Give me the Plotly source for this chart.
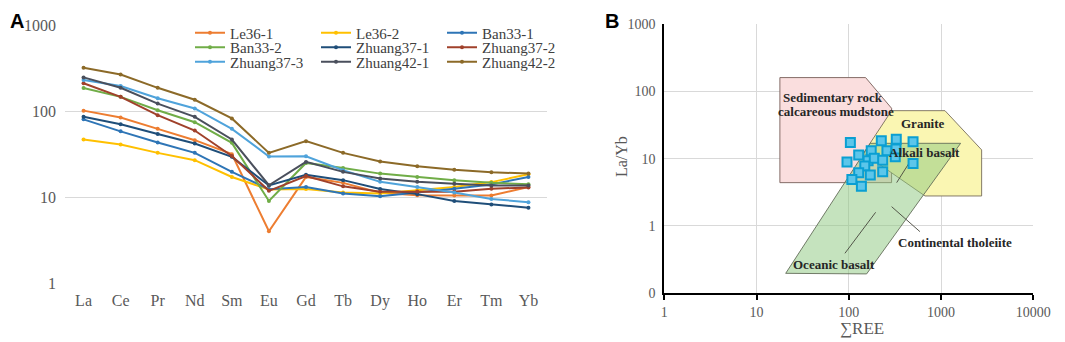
import plotly.graph_objects as go

# ---------------- Panel A data (chondrite-normalised REE) ----------------
elements = ["La", "Ce", "Pr", "Nd", "Sm", "Eu", "Gd", "Tb", "Dy", "Ho", "Er", "Tm", "Yb"]

le36_1 = [101, 84, 62, 45.8, 31.5, 4.0, 17.1, 14.6, 11.2, 10.5, 10.4, 10.4, 13.1]
le36_2 = [46.6, 40.8, 32.6, 26.8, 17.1, 12.2, 12.4, 11.3, 11.0, 12.0, 13.1, 14.9, 18.4]
ban33_1 = [80, 58, 43, 32.6, 19.6, 12.3, 13.1, 11.0, 10.2, 11.2, 12.5, 14.0, 17.1]
ban33_2 = [185, 146, 102, 74, 42.6, 9.0, 24.9, 21.8, 18.7, 17.1, 15.7, 14.6, 14.1]
zhuang37_1 = [85.6, 70, 54, 41.9, 29.3, 13.6, 18.1, 15.7, 12.4, 10.8, 9.0, 8.2, 7.5]
zhuang37_2 = [210, 146, 89.5, 59.3, 30, 11.8, 17.5, 13.3, 11.5, 11.6, 11.5, 12.5, 12.9]
zhuang37_3 = [229, 195, 141, 107, 62, 29.6, 29.8, 20.5, 15.0, 13.1, 11.3, 9.5, 8.7]
zhuang42_1 = [246, 186, 122, 85.6, 46.6, 13.7, 25.6, 19.6, 16.4, 15.0, 14.3, 13.6, 13.6]
zhuang42_2 = [318, 266, 186, 135, 82, 32.6, 44.6, 32.6, 25.9, 22.8, 20.7, 19.4, 18.7]

series_names = ["Le36-1", "Le36-2", "Ban33-1", "Ban33-2", "Zhuang37-1", "Zhuang37-2",
                "Zhuang37-3", "Zhuang42-1", "Zhuang42-2"]
series_values = [le36_1, le36_2, ban33_1, ban33_2, zhuang37_1, zhuang37_2,
                 zhuang37_3, zhuang42_1, zhuang42_2]
series_colors = ["#ED7D31", "#FFC000", "#2E75B6", "#70AD47", "#1F4E79", "#A0412B",
                 "#4FA3DB", "#4A4F5C", "#8C6A28"]

y_a_ticks = [1, 10, 100, 1000]

# ---------------- Panel B data ----------------
sum_ree = [104, 95.6, 128, 175, 225, 327, 259, 319, 497, 497, 162, 189, 233,
           149, 128, 171, 233, 108, 137, 325]
la_yb = [17.3, 8.9, 11.3, 13.1, 18.5, 19.4, 13.1, 10.7, 17.9, 8.5, 9.3, 10.1, 9.5,
         7.8, 6.2, 5.7, 6.4, 4.9, 3.9, 13.9]

# Discrimination fields (vertices in data units)
sed_x = [17.9, 152, 291, 291, 17.9, 17.9]
sed_y = [160, 160, 56, 4.4, 4.4, 160]
granite_x = [291, 1103, 2754, 2754, 670, 144, 291]
granite_y = [51.6, 51.6, 13.5, 2.79, 2.79, 12.0, 51.6]
basalt_x = [20.7, 156, 1630, 171, 20.7]
basalt_y = [0.198, 0.194, 16.9, 16.9, 0.198]

# leader lines
ocean_lead_x = [10 ** 1.958, 10 ** 2.291]
ocean_lead_y = [10 ** -0.406, 10 ** 0.203]
cont_lead_x = [10 ** 2.464, 10 ** 2.771]
cont_lead_y = [10 ** 0.287, 10 ** -0.084]
alk_lead_x = [10 ** 2.519, 10 ** 2.663]
alk_lead_y = [10 ** 0.644, 10 ** 0.955]

b_x_ticks = [1, 10, 100, 1000, 10000]
b_y_ticks = [0.1, 1, 10, 100, 1000]
b_y_text = ["0", "1", "10", "100", "1000"]

# field labels: (text, log10 x, log10 y)
field_labels = [
    ("Sedimentary rock", 1.825, 1.91),
    ("calcareous mudstone", 1.861, 1.70),
    ("Granite", 2.808, 1.525),
    ("Alkali basalt", 2.818, 1.089),
    ("Continental tholeiite", 3.151, -0.248),
    ("Oceanic basalt", 1.839, -0.569),
]

# page body has an 8px margin, so the figure is drawn 8px smaller and offset
OFF = 8
W, H = 1065 - OFF, 342 - OFF


def px(x):
    return (x - OFF) / W


def py(y):
    return 1 - (y - OFF) / H


SERIF = "Liberation Serif"
GRAY = "#595959"

fig = go.Figure()

legend_ids = ["legend", "legend", "legend", "legend2", "legend2", "legend2",
              "legend3", "legend3", "legend3"]
for name, vals, col, lg in zip(series_names, series_values, series_colors, legend_ids):
    fig.add_trace(go.Scatter(
        x=elements, y=vals, name=name, mode="lines+markers",
        line=dict(color=col, width=2), marker=dict(color=col, size=4),
        xaxis="x", yaxis="y", legend=lg,
    ))

# Panel B polygons
fig.add_trace(go.Scatter(x=sed_x, y=sed_y, mode="lines", fill="toself",
                         fillcolor="rgba(250,222,222,1)",
                         line=dict(color="rgba(120,95,90,0.9)", width=1),
                         xaxis="x2", yaxis="y2", showlegend=False, hoverinfo="skip"))
fig.add_trace(go.Scatter(x=granite_x, y=granite_y, mode="lines", fill="toself",
                         fillcolor="rgba(250,246,178,1)",
                         line=dict(color="rgba(120,110,90,0.9)", width=1),
                         xaxis="x2", yaxis="y2", showlegend=False, hoverinfo="skip"))
fig.add_trace(go.Scatter(x=basalt_x, y=basalt_y, mode="lines", fill="toself",
                         fillcolor="rgba(140,200,125,0.5)",
                         line=dict(color="rgba(100,110,90,0.9)", width=1),
                         xaxis="x2", yaxis="y2", showlegend=False, hoverinfo="skip"))
for lx, ly in [(ocean_lead_x, ocean_lead_y), (cont_lead_x, cont_lead_y), (alk_lead_x, alk_lead_y)]:
    fig.add_trace(go.Scatter(x=lx, y=ly, mode="lines",
                             line=dict(color="rgba(70,70,60,0.9)", width=1),
                             xaxis="x2", yaxis="y2", showlegend=False, hoverinfo="skip"))

fig.add_trace(go.Scatter(x=sum_ree, y=la_yb, mode="markers",
                         marker=dict(symbol="square", size=9, color="#5CC6EA",
                                     line=dict(color="#0A9FD2", width=2)),
                         xaxis="x2", yaxis="y2", showlegend=False))

annotations = []
for txt, lx, ly in field_labels:
    annotations.append(dict(text=txt, x=lx, y=ly, xref="x2", yref="y2", showarrow=False,
                            xanchor="center", yanchor="middle",
                            font=dict(family=SERIF, size=13, color="#262626", weight="bold")))

annotations += [
    dict(text="<b>A</b>", x=0, y=1, xref="paper", yref="paper", xanchor="left",
         yanchor="top", showarrow=False, font=dict(family="Liberation Sans", size=20, color="black")),
    dict(text="<b>B</b>", x=px(603), y=1, xref="paper", yref="paper", xanchor="left",
         yanchor="top", showarrow=False, font=dict(family="Liberation Sans", size=20, color="black")),
    dict(text="La/Yb", x=px(621), y=py(157), xref="paper", yref="paper", textangle=-90,
         xanchor="center", yanchor="middle",
         showarrow=False, font=dict(family=SERIF, size=16, color=GRAY)),
    dict(text="∑REE", x=px(862), y=py(328), xref="paper", yref="paper",
         xanchor="center", yanchor="middle",
         showarrow=False, font=dict(family=SERIF, size=17, color=GRAY)),
]

leg_common = dict(orientation="h", xanchor="left", yanchor="middle", entrywidth=81,
                  entrywidthmode="pixels", bgcolor="rgba(0,0,0,0)", borderwidth=0,
                  font=dict(family=SERIF, size=15, color="#404040"), itemwidth=30,
                  tracegroupgap=0, xref="container", yref="container")

fig.update_layout(
    width=W, height=H,
    margin=dict(l=0, r=0, t=0, b=0, autoexpand=False),
    paper_bgcolor="white", plot_bgcolor="white",
    showlegend=True,
    legend=dict(x=px(190), y=py(33), **leg_common),
    legend2=dict(x=px(190), y=py(47.5), **leg_common),
    legend3=dict(x=px(190), y=py(62), **leg_common),
    xaxis=dict(domain=[px(65), px(547)], anchor="y", type="category", automargin=False,
               range=[-0.5, 12.5], showgrid=False, showline=False, ticks="",
               tickfont=dict(family=SERIF, size=16, color=GRAY), ticklabelstandoff=6),
    yaxis=dict(domain=[py(283), py(25)], anchor="x", type="log", range=[0, 3],
               automargin=False,
               tickvals=y_a_ticks, ticktext=[str(v) for v in y_a_ticks],
               showgrid=True, gridcolor="#D9D9D9", gridwidth=1, showline=False,
               zeroline=False, ticks="",
               tickfont=dict(family=SERIF, size=16, color=GRAY), ticklabelstandoff=8),
    xaxis2=dict(domain=[px(664.3), px(1033.3)], anchor="y2", type="log", range=[0, 4],
                automargin=False,
                tickvals=b_x_ticks, ticktext=[str(v) for v in b_x_ticks],
                showgrid=True, gridcolor="#D9D9D9", gridwidth=1,
                showline=True, linecolor="black", linewidth=2, ticks="outside",
                ticklen=5, tickcolor="black", tickwidth=1.5, zeroline=False,
                tickfont=dict(family=SERIF, size=14, color=GRAY)),
    yaxis2=dict(domain=[py(293.3), py(24)], anchor="x2", type="log", range=[-1, 3],
                automargin=False,
                tickvals=b_y_ticks, ticktext=b_y_text,
                showgrid=True, gridcolor="#D9D9D9", gridwidth=1,
                showline=True, linecolor="black", linewidth=2, ticks="",
                zeroline=False, ticklabelstandoff=4,
                tickfont=dict(family=SERIF, size=14, color=GRAY)),
    annotations=annotations,
)

fig.write_html("out.html")
